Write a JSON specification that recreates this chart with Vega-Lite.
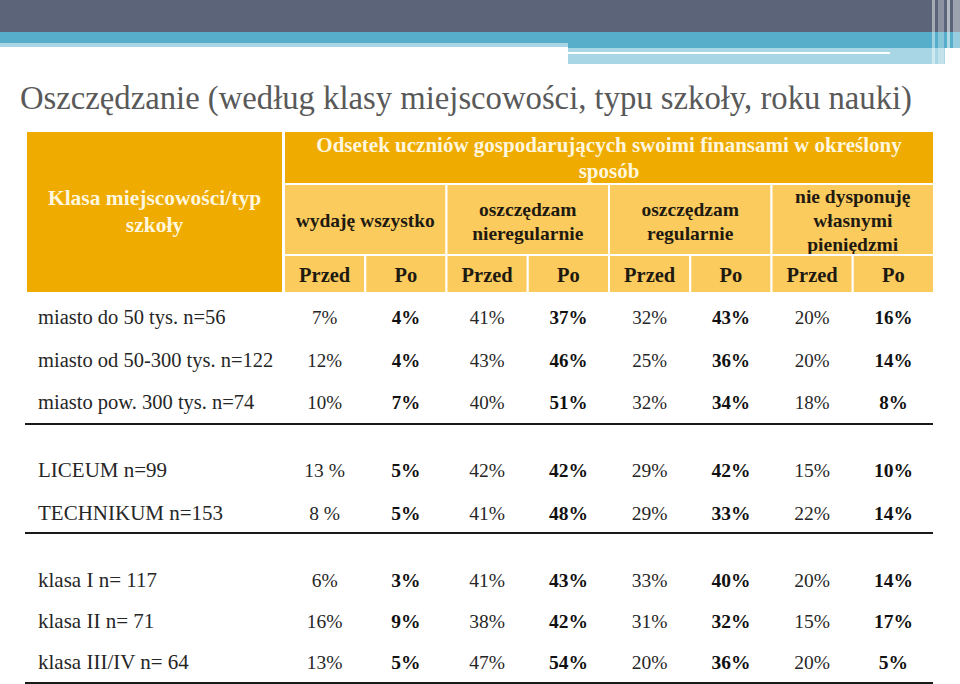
{
  "$schema": "https://vega.github.io/schema/vega-lite/v6.json",
  "width": 960,
  "height": 684,
  "padding": 0,
  "autosize": {"type": "none"},
  "background": "#ffffff",
  "config": {"view": {"stroke": null}, "text": {"font": "Liberation Serif"}},
  "datasets": {
    "tabela": [
      {"grupa": "miejscowość", "wiersz": "miasto do 50 tys. n=56", "kategoria": "wydaję wszystko", "okres": "Przed", "wartosc": "7%"},
      {"grupa": "miejscowość", "wiersz": "miasto do 50 tys. n=56", "kategoria": "wydaję wszystko", "okres": "Po", "wartosc": "4%"},
      {"grupa": "miejscowość", "wiersz": "miasto do 50 tys. n=56", "kategoria": "oszczędzam nieregularnie", "okres": "Przed", "wartosc": "41%"},
      {"grupa": "miejscowość", "wiersz": "miasto do 50 tys. n=56", "kategoria": "oszczędzam nieregularnie", "okres": "Po", "wartosc": "37%"},
      {"grupa": "miejscowość", "wiersz": "miasto do 50 tys. n=56", "kategoria": "oszczędzam regularnie", "okres": "Przed", "wartosc": "32%"},
      {"grupa": "miejscowość", "wiersz": "miasto do 50 tys. n=56", "kategoria": "oszczędzam regularnie", "okres": "Po", "wartosc": "43%"},
      {"grupa": "miejscowość", "wiersz": "miasto do 50 tys. n=56", "kategoria": "nie dysponuję własnymi pieniędzmi", "okres": "Przed", "wartosc": "20%"},
      {"grupa": "miejscowość", "wiersz": "miasto do 50 tys. n=56", "kategoria": "nie dysponuję własnymi pieniędzmi", "okres": "Po", "wartosc": "16%"},
      {"grupa": "miejscowość", "wiersz": "miasto od 50-300 tys. n=122", "kategoria": "wydaję wszystko", "okres": "Przed", "wartosc": "12%"},
      {"grupa": "miejscowość", "wiersz": "miasto od 50-300 tys. n=122", "kategoria": "wydaję wszystko", "okres": "Po", "wartosc": "4%"},
      {"grupa": "miejscowość", "wiersz": "miasto od 50-300 tys. n=122", "kategoria": "oszczędzam nieregularnie", "okres": "Przed", "wartosc": "43%"},
      {"grupa": "miejscowość", "wiersz": "miasto od 50-300 tys. n=122", "kategoria": "oszczędzam nieregularnie", "okres": "Po", "wartosc": "46%"},
      {"grupa": "miejscowość", "wiersz": "miasto od 50-300 tys. n=122", "kategoria": "oszczędzam regularnie", "okres": "Przed", "wartosc": "25%"},
      {"grupa": "miejscowość", "wiersz": "miasto od 50-300 tys. n=122", "kategoria": "oszczędzam regularnie", "okres": "Po", "wartosc": "36%"},
      {"grupa": "miejscowość", "wiersz": "miasto od 50-300 tys. n=122", "kategoria": "nie dysponuję własnymi pieniędzmi", "okres": "Przed", "wartosc": "20%"},
      {"grupa": "miejscowość", "wiersz": "miasto od 50-300 tys. n=122", "kategoria": "nie dysponuję własnymi pieniędzmi", "okres": "Po", "wartosc": "14%"},
      {"grupa": "miejscowość", "wiersz": "miasto pow. 300 tys. n=74", "kategoria": "wydaję wszystko", "okres": "Przed", "wartosc": "10%"},
      {"grupa": "miejscowość", "wiersz": "miasto pow. 300 tys. n=74", "kategoria": "wydaję wszystko", "okres": "Po", "wartosc": "7%"},
      {"grupa": "miejscowość", "wiersz": "miasto pow. 300 tys. n=74", "kategoria": "oszczędzam nieregularnie", "okres": "Przed", "wartosc": "40%"},
      {"grupa": "miejscowość", "wiersz": "miasto pow. 300 tys. n=74", "kategoria": "oszczędzam nieregularnie", "okres": "Po", "wartosc": "51%"},
      {"grupa": "miejscowość", "wiersz": "miasto pow. 300 tys. n=74", "kategoria": "oszczędzam regularnie", "okres": "Przed", "wartosc": "32%"},
      {"grupa": "miejscowość", "wiersz": "miasto pow. 300 tys. n=74", "kategoria": "oszczędzam regularnie", "okres": "Po", "wartosc": "34%"},
      {"grupa": "miejscowość", "wiersz": "miasto pow. 300 tys. n=74", "kategoria": "nie dysponuję własnymi pieniędzmi", "okres": "Przed", "wartosc": "18%"},
      {"grupa": "miejscowość", "wiersz": "miasto pow. 300 tys. n=74", "kategoria": "nie dysponuję własnymi pieniędzmi", "okres": "Po", "wartosc": "8%"},
      {"grupa": "typ szkoły", "wiersz": "LICEUM n=99", "kategoria": "wydaję wszystko", "okres": "Przed", "wartosc": "13 %"},
      {"grupa": "typ szkoły", "wiersz": "LICEUM n=99", "kategoria": "wydaję wszystko", "okres": "Po", "wartosc": "5%"},
      {"grupa": "typ szkoły", "wiersz": "LICEUM n=99", "kategoria": "oszczędzam nieregularnie", "okres": "Przed", "wartosc": "42%"},
      {"grupa": "typ szkoły", "wiersz": "LICEUM n=99", "kategoria": "oszczędzam nieregularnie", "okres": "Po", "wartosc": "42%"},
      {"grupa": "typ szkoły", "wiersz": "LICEUM n=99", "kategoria": "oszczędzam regularnie", "okres": "Przed", "wartosc": "29%"},
      {"grupa": "typ szkoły", "wiersz": "LICEUM n=99", "kategoria": "oszczędzam regularnie", "okres": "Po", "wartosc": "42%"},
      {"grupa": "typ szkoły", "wiersz": "LICEUM n=99", "kategoria": "nie dysponuję własnymi pieniędzmi", "okres": "Przed", "wartosc": "15%"},
      {"grupa": "typ szkoły", "wiersz": "LICEUM n=99", "kategoria": "nie dysponuję własnymi pieniędzmi", "okres": "Po", "wartosc": "10%"},
      {"grupa": "typ szkoły", "wiersz": "TECHNIKUM n=153", "kategoria": "wydaję wszystko", "okres": "Przed", "wartosc": "8 %"},
      {"grupa": "typ szkoły", "wiersz": "TECHNIKUM n=153", "kategoria": "wydaję wszystko", "okres": "Po", "wartosc": "5%"},
      {"grupa": "typ szkoły", "wiersz": "TECHNIKUM n=153", "kategoria": "oszczędzam nieregularnie", "okres": "Przed", "wartosc": "41%"},
      {"grupa": "typ szkoły", "wiersz": "TECHNIKUM n=153", "kategoria": "oszczędzam nieregularnie", "okres": "Po", "wartosc": "48%"},
      {"grupa": "typ szkoły", "wiersz": "TECHNIKUM n=153", "kategoria": "oszczędzam regularnie", "okres": "Przed", "wartosc": "29%"},
      {"grupa": "typ szkoły", "wiersz": "TECHNIKUM n=153", "kategoria": "oszczędzam regularnie", "okres": "Po", "wartosc": "33%"},
      {"grupa": "typ szkoły", "wiersz": "TECHNIKUM n=153", "kategoria": "nie dysponuję własnymi pieniędzmi", "okres": "Przed", "wartosc": "22%"},
      {"grupa": "typ szkoły", "wiersz": "TECHNIKUM n=153", "kategoria": "nie dysponuję własnymi pieniędzmi", "okres": "Po", "wartosc": "14%"},
      {"grupa": "rok nauki", "wiersz": "klasa I n= 117", "kategoria": "wydaję wszystko", "okres": "Przed", "wartosc": "6%"},
      {"grupa": "rok nauki", "wiersz": "klasa I n= 117", "kategoria": "wydaję wszystko", "okres": "Po", "wartosc": "3%"},
      {"grupa": "rok nauki", "wiersz": "klasa I n= 117", "kategoria": "oszczędzam nieregularnie", "okres": "Przed", "wartosc": "41%"},
      {"grupa": "rok nauki", "wiersz": "klasa I n= 117", "kategoria": "oszczędzam nieregularnie", "okres": "Po", "wartosc": "43%"},
      {"grupa": "rok nauki", "wiersz": "klasa I n= 117", "kategoria": "oszczędzam regularnie", "okres": "Przed", "wartosc": "33%"},
      {"grupa": "rok nauki", "wiersz": "klasa I n= 117", "kategoria": "oszczędzam regularnie", "okres": "Po", "wartosc": "40%"},
      {"grupa": "rok nauki", "wiersz": "klasa I n= 117", "kategoria": "nie dysponuję własnymi pieniędzmi", "okres": "Przed", "wartosc": "20%"},
      {"grupa": "rok nauki", "wiersz": "klasa I n= 117", "kategoria": "nie dysponuję własnymi pieniędzmi", "okres": "Po", "wartosc": "14%"},
      {"grupa": "rok nauki", "wiersz": "klasa II n= 71", "kategoria": "wydaję wszystko", "okres": "Przed", "wartosc": "16%"},
      {"grupa": "rok nauki", "wiersz": "klasa II n= 71", "kategoria": "wydaję wszystko", "okres": "Po", "wartosc": "9%"},
      {"grupa": "rok nauki", "wiersz": "klasa II n= 71", "kategoria": "oszczędzam nieregularnie", "okres": "Przed", "wartosc": "38%"},
      {"grupa": "rok nauki", "wiersz": "klasa II n= 71", "kategoria": "oszczędzam nieregularnie", "okres": "Po", "wartosc": "42%"},
      {"grupa": "rok nauki", "wiersz": "klasa II n= 71", "kategoria": "oszczędzam regularnie", "okres": "Przed", "wartosc": "31%"},
      {"grupa": "rok nauki", "wiersz": "klasa II n= 71", "kategoria": "oszczędzam regularnie", "okres": "Po", "wartosc": "32%"},
      {"grupa": "rok nauki", "wiersz": "klasa II n= 71", "kategoria": "nie dysponuję własnymi pieniędzmi", "okres": "Przed", "wartosc": "15%"},
      {"grupa": "rok nauki", "wiersz": "klasa II n= 71", "kategoria": "nie dysponuję własnymi pieniędzmi", "okres": "Po", "wartosc": "17%"},
      {"grupa": "rok nauki", "wiersz": "klasa III/IV n= 64", "kategoria": "wydaję wszystko", "okres": "Przed", "wartosc": "13%"},
      {"grupa": "rok nauki", "wiersz": "klasa III/IV n= 64", "kategoria": "wydaję wszystko", "okres": "Po", "wartosc": "5%"},
      {"grupa": "rok nauki", "wiersz": "klasa III/IV n= 64", "kategoria": "oszczędzam nieregularnie", "okres": "Przed", "wartosc": "47%"},
      {"grupa": "rok nauki", "wiersz": "klasa III/IV n= 64", "kategoria": "oszczędzam nieregularnie", "okres": "Po", "wartosc": "54%"},
      {"grupa": "rok nauki", "wiersz": "klasa III/IV n= 64", "kategoria": "oszczędzam regularnie", "okres": "Przed", "wartosc": "20%"},
      {"grupa": "rok nauki", "wiersz": "klasa III/IV n= 64", "kategoria": "oszczędzam regularnie", "okres": "Po", "wartosc": "36%"},
      {"grupa": "rok nauki", "wiersz": "klasa III/IV n= 64", "kategoria": "nie dysponuję własnymi pieniędzmi", "okres": "Przed", "wartosc": "20%"},
      {"grupa": "rok nauki", "wiersz": "klasa III/IV n= 64", "kategoria": "nie dysponuję własnymi pieniędzmi", "okres": "Po", "wartosc": "5%"}
    ],
    "kategorie": [
      {"kategoria": "wydaję wszystko", "podpis": "wydaję wszystko"},
      {"kategoria": "oszczędzam nieregularnie", "podpis": "oszczędzam\nnieregularnie"},
      {"kategoria": "oszczędzam regularnie", "podpis": "oszczędzam\nregularnie"},
      {"kategoria": "nie dysponuję własnymi pieniędzmi", "podpis": "nie dysponuję\nwłasnymi\npieniędzmi"}
    ]
  },
  "resolve": {"scale": {"x": "independent", "y": "independent"}},
  "layer": [
    {
      "data": {"values": [{}]},
      "mark": {"type": "rect", "color": "#5B6479"},
      "encoding": {
        "x": {"datum": 0, "scale": {"type": "linear", "domain": [0, 960], "range": [0, 960], "zero": false, "nice": false}, "axis": null},
        "x2": {"datum": 960},
        "y": {"datum": 0, "scale": {"type": "linear", "domain": [0, 684], "range": [0, 684], "zero": false, "nice": false}, "axis": null},
        "y2": {"datum": 32}
      }
    },
    {
      "data": {"values": [{}]},
      "mark": {"type": "rect", "color": "#56AECB"},
      "encoding": {
        "x": {"datum": 0, "scale": {"type": "linear", "domain": [0, 960], "range": [0, 960], "zero": false, "nice": false}, "axis": null},
        "x2": {"datum": 960},
        "y": {"datum": 32, "scale": {"type": "linear", "domain": [0, 684], "range": [0, 684], "zero": false, "nice": false}, "axis": null},
        "y2": {"datum": 43}
      }
    },
    {
      "data": {"values": [{}]},
      "mark": {"type": "rect", "color": "#A9D6E4"},
      "encoding": {
        "x": {"datum": 0, "scale": {"type": "linear", "domain": [0, 960], "range": [0, 960], "zero": false, "nice": false}, "axis": null},
        "x2": {"datum": 568},
        "y": {"datum": 43, "scale": {"type": "linear", "domain": [0, 684], "range": [0, 684], "zero": false, "nice": false}, "axis": null},
        "y2": {"datum": 47}
      }
    },
    {
      "data": {"values": [{}]},
      "mark": {"type": "rect", "color": "#56AECB"},
      "encoding": {
        "x": {"datum": 568, "scale": {"type": "linear", "domain": [0, 960], "range": [0, 960], "zero": false, "nice": false}, "axis": null},
        "x2": {"datum": 960},
        "y": {"datum": 43, "scale": {"type": "linear", "domain": [0, 684], "range": [0, 684], "zero": false, "nice": false}, "axis": null},
        "y2": {"datum": 48}
      }
    },
    {
      "data": {"values": [{}]},
      "mark": {"type": "rect", "color": "#A9D6E4"},
      "encoding": {
        "x": {"datum": 568, "scale": {"type": "linear", "domain": [0, 960], "range": [0, 960], "zero": false, "nice": false}, "axis": null},
        "x2": {"datum": 945},
        "y": {"datum": 48, "scale": {"type": "linear", "domain": [0, 684], "range": [0, 684], "zero": false, "nice": false}, "axis": null},
        "y2": {"datum": 64}
      }
    },
    {
      "data": {"values": [{}]},
      "mark": {"type": "rect", "color": "#FFFFFF"},
      "encoding": {
        "x": {"datum": 568, "scale": {"type": "linear", "domain": [0, 960], "range": [0, 960], "zero": false, "nice": false}, "axis": null},
        "x2": {"datum": 890},
        "y": {"datum": 52, "scale": {"type": "linear", "domain": [0, 684], "range": [0, 684], "zero": false, "nice": false}, "axis": null},
        "y2": {"datum": 54}
      }
    },
    {
      "data": {"values": [{}]},
      "mark": {"type": "rect", "color": "#FFFFFF", "opacity": 0.45},
      "encoding": {
        "x": {"datum": 932, "scale": {"type": "linear", "domain": [0, 960], "range": [0, 960], "zero": false, "nice": false}, "axis": null},
        "x2": {"datum": 935},
        "y": {"datum": 0, "scale": {"type": "linear", "domain": [0, 684], "range": [0, 684], "zero": false, "nice": false}, "axis": null},
        "y2": {"datum": 64}
      }
    },
    {
      "data": {"values": [{}]},
      "mark": {"type": "rect", "color": "#FFFFFF", "opacity": 0.3},
      "encoding": {
        "x": {"datum": 938, "scale": {"type": "linear", "domain": [0, 960], "range": [0, 960], "zero": false, "nice": false}, "axis": null},
        "x2": {"datum": 944},
        "y": {"datum": 0, "scale": {"type": "linear", "domain": [0, 684], "range": [0, 684], "zero": false, "nice": false}, "axis": null},
        "y2": {"datum": 64}
      }
    },
    {
      "data": {"values": [{}]},
      "mark": {"type": "rect", "color": "#FFFFFF", "opacity": 0.55},
      "encoding": {
        "x": {"datum": 947, "scale": {"type": "linear", "domain": [0, 960], "range": [0, 960], "zero": false, "nice": false}, "axis": null},
        "x2": {"datum": 950},
        "y": {"datum": 0, "scale": {"type": "linear", "domain": [0, 684], "range": [0, 684], "zero": false, "nice": false}, "axis": null},
        "y2": {"datum": 64}
      }
    },
    {
      "data": {"values": [{}]},
      "mark": {"type": "rect", "color": "#FFFFFF", "opacity": 0.4},
      "encoding": {
        "x": {"datum": 953, "scale": {"type": "linear", "domain": [0, 960], "range": [0, 960], "zero": false, "nice": false}, "axis": null},
        "x2": {"datum": 960},
        "y": {"datum": 0, "scale": {"type": "linear", "domain": [0, 684], "range": [0, 684], "zero": false, "nice": false}, "axis": null},
        "y2": {"datum": 64}
      }
    },
    {
      "data": {"values": [{}]},
      "mark": {"type": "text", "text": "Oszczędzanie (według klasy miejscowości, typu szkoły, roku nauki)", "align": "left", "baseline": "alphabetic", "fontSize": 32.7, "color": "#595959"},
      "encoding": {
        "x": {"datum": 20, "scale": {"type": "linear", "domain": [0, 960], "range": [0, 960], "zero": false, "nice": false}, "axis": null},
        "y": {"datum": 109, "scale": {"type": "linear", "domain": [0, 684], "range": [0, 684], "zero": false, "nice": false}, "axis": null}
      }
    },
    {
      "data": {"values": [{"naglowek": "Klasa miejscowości/typ\nszkoły"}]},
      "encoding": {
        "x": {"field": "naglowek", "type": "nominal", "scale": {"type": "band", "domain": ["Klasa miejscowości/typ\nszkoły"], "range": [27, 282], "paddingInner": 0, "paddingOuter": 0}, "axis": null},
        "y": {"field": "naglowek", "type": "nominal", "scale": {"type": "band", "domain": ["Klasa miejscowości/typ\nszkoły"], "range": [132, 292], "paddingInner": 0, "paddingOuter": 0}, "axis": null}
      },
      "layer": [
        {"mark": {"type": "rect", "color": "#EFAB00"}},
        {"mark": {"type": "text", "lineBreak": "\n", "fontSize": 21.5, "fontWeight": "bold", "color": "#FFF6DE", "align": "center", "baseline": "middle", "lineHeight": 27, "dy": -13}, "encoding": {"text": {"field": "naglowek"}}}
      ]
    },
    {
      "data": {"values": [{"naglowek": "Odsetek uczniów gospodarujących swoimi finansami w określony\nsposób"}]},
      "encoding": {
        "x": {"field": "naglowek", "type": "nominal", "scale": {"type": "band", "domain": ["Odsetek uczniów gospodarujących swoimi finansami w określony\nsposób"], "range": [285, 933], "paddingInner": 0, "paddingOuter": 0}, "axis": null},
        "y": {"field": "naglowek", "type": "nominal", "scale": {"type": "band", "domain": ["Odsetek uczniów gospodarujących swoimi finansami w określony\nsposób"], "range": [132, 183], "paddingInner": 0, "paddingOuter": 0}, "axis": null}
      },
      "layer": [
        {"mark": {"type": "rect", "color": "#EFAB00"}},
        {"mark": {"type": "text", "lineBreak": "\n", "fontSize": 21, "fontWeight": "bold", "color": "#FFF6DE", "align": "center", "baseline": "middle", "lineHeight": 26, "dy": -11.5}, "encoding": {"text": {"field": "naglowek"}}}
      ]
    },
    {
      "data": {"name": "kategorie"},
      "encoding": {
        "x": {"field": "kategoria", "type": "nominal", "scale": {"type": "band", "domain": ["wydaję wszystko", "oszczędzam nieregularnie", "oszczędzam regularnie", "nie dysponuję własnymi pieniędzmi"], "range": [284, 934], "paddingInner": 0, "paddingOuter": 0}, "axis": null},
        "y": {"datum": "kategoria", "type": "nominal", "scale": {"type": "band", "domain": ["kategoria"], "range": [184, 255], "paddingInner": 0, "paddingOuter": 0}, "axis": null}
      },
      "layer": [
        {"mark": {"type": "rect", "color": "#FCCB5E", "stroke": "#FFFFFF", "strokeWidth": 2}},
        {
          "transform": [{"filter": {"field": "kategoria", "equal": "wydaję wszystko"}}],
          "mark": {"type": "text", "lineBreak": "\n", "fontSize": 19.5, "fontWeight": "bold", "color": "#1E1A10", "align": "center", "baseline": "middle", "lineHeight": 24, "dy": 1.5},
          "encoding": {"text": {"field": "podpis"}}
        },
        {
          "transform": [{"filter": {"field": "kategoria", "oneOf": ["oszczędzam nieregularnie", "oszczędzam regularnie"]}}],
          "mark": {"type": "text", "lineBreak": "\n", "fontSize": 19.5, "fontWeight": "bold", "color": "#1E1A10", "align": "center", "baseline": "middle", "lineHeight": 24, "dy": -9.5},
          "encoding": {"text": {"field": "podpis"}}
        },
        {
          "transform": [{"filter": {"field": "kategoria", "equal": "nie dysponuję własnymi pieniędzmi"}}],
          "mark": {"type": "text", "lineBreak": "\n", "fontSize": 19.5, "fontWeight": "bold", "color": "#1E1A10", "align": "center", "baseline": "middle", "lineHeight": 24, "dy": -22.5},
          "encoding": {"text": {"field": "podpis"}}
        }
      ]
    },
    {
      "data": {"name": "tabela"},
      "transform": [{"filter": {"field": "wiersz", "equal": "miasto do 50 tys. n=56"}}],
      "encoding": {
        "x": {"field": "kategoria", "type": "nominal", "scale": {"type": "band", "domain": ["wydaję wszystko", "oszczędzam nieregularnie", "oszczędzam regularnie", "nie dysponuję własnymi pieniędzmi"], "range": [284, 934], "paddingInner": 0, "paddingOuter": 0}, "axis": null},
        "xOffset": {"field": "okres", "type": "nominal", "scale": {"type": "band", "domain": ["Przed", "Po"], "paddingInner": 0, "paddingOuter": 0}},
        "y": {"datum": "okres", "type": "nominal", "scale": {"type": "band", "domain": ["okres"], "range": [255, 293], "paddingInner": 0, "paddingOuter": 0}, "axis": null}
      },
      "layer": [
        {"mark": {"type": "rect", "color": "#FCCB5E", "stroke": "#FFFFFF", "strokeWidth": 2}},
        {"mark": {"type": "text", "fontSize": 20.5, "fontWeight": "bold", "color": "#1E1A10", "align": "center", "baseline": "middle", "dy": 2}, "encoding": {"text": {"field": "okres"}}}
      ]
    },
    {
      "data": {"name": "tabela"},
      "transform": [{"filter": {"field": "grupa", "equal": "miejscowość"}}, {"filter": {"field": "okres", "equal": "Przed"}}, {"filter": {"field": "kategoria", "equal": "wydaję wszystko"}}],
      "mark": {"type": "text", "fontSize": 20.5, "color": "#262626", "align": "left", "baseline": "middle"},
      "encoding": {
        "x": {"datum": 0, "scale": {"type": "linear", "domain": [0, 1], "range": [38, 284], "zero": false, "nice": false}, "axis": null},
        "y": {"field": "wiersz", "type": "nominal", "scale": {"type": "band", "domain": ["miasto do 50 tys. n=56", "miasto od 50-300 tys. n=122", "miasto pow. 300 tys. n=74"], "range": [297, 424], "paddingInner": 0, "paddingOuter": 0}, "axis": null},
        "text": {"field": "wiersz"}
      }
    },
    {
      "data": {"name": "tabela"},
      "transform": [{"filter": {"field": "grupa", "equal": "miejscowość"}}, {"filter": {"field": "okres", "equal": "Przed"}}],
      "mark": {"type": "text", "fontSize": 19, "color": "#262626", "align": "center", "baseline": "middle"},
      "encoding": {
        "x": {"field": "kategoria", "type": "nominal", "scale": {"type": "band", "domain": ["wydaję wszystko", "oszczędzam nieregularnie", "oszczędzam regularnie", "nie dysponuję własnymi pieniędzmi"], "range": [284, 934], "paddingInner": 0, "paddingOuter": 0}, "axis": null},
        "xOffset": {"field": "okres", "type": "nominal", "scale": {"type": "band", "domain": ["Przed", "Po"], "paddingInner": 0, "paddingOuter": 0}},
        "y": {"field": "wiersz", "type": "nominal", "scale": {"type": "band", "domain": ["miasto do 50 tys. n=56", "miasto od 50-300 tys. n=122", "miasto pow. 300 tys. n=74"], "range": [297, 424], "paddingInner": 0, "paddingOuter": 0}, "axis": null},
        "text": {"field": "wartosc"}
      }
    },
    {
      "data": {"name": "tabela"},
      "transform": [{"filter": {"field": "grupa", "equal": "miejscowość"}}, {"filter": {"field": "okres", "equal": "Po"}}],
      "mark": {"type": "text", "fontSize": 19, "fontWeight": "bold", "color": "#111111", "align": "center", "baseline": "middle"},
      "encoding": {
        "x": {"field": "kategoria", "type": "nominal", "scale": {"type": "band", "domain": ["wydaję wszystko", "oszczędzam nieregularnie", "oszczędzam regularnie", "nie dysponuję własnymi pieniędzmi"], "range": [284, 934], "paddingInner": 0, "paddingOuter": 0}, "axis": null},
        "xOffset": {"field": "okres", "type": "nominal", "scale": {"type": "band", "domain": ["Przed", "Po"], "paddingInner": 0, "paddingOuter": 0}},
        "y": {"field": "wiersz", "type": "nominal", "scale": {"type": "band", "domain": ["miasto do 50 tys. n=56", "miasto od 50-300 tys. n=122", "miasto pow. 300 tys. n=74"], "range": [297, 424], "paddingInner": 0, "paddingOuter": 0}, "axis": null},
        "text": {"field": "wartosc"}
      }
    },
    {
      "data": {"name": "tabela"},
      "transform": [{"filter": {"field": "grupa", "equal": "typ szkoły"}}, {"filter": {"field": "okres", "equal": "Przed"}}, {"filter": {"field": "kategoria", "equal": "wydaję wszystko"}}],
      "mark": {"type": "text", "fontSize": 21, "color": "#262626", "align": "left", "baseline": "middle"},
      "encoding": {
        "x": {"datum": 0, "scale": {"type": "linear", "domain": [0, 1], "range": [38, 284], "zero": false, "nice": false}, "axis": null},
        "y": {"field": "wiersz", "type": "nominal", "scale": {"type": "band", "domain": ["LICEUM n=99", "TECHNIKUM n=153"], "range": [449.5, 535.5], "paddingInner": 0, "paddingOuter": 0}, "axis": null},
        "text": {"field": "wiersz"}
      }
    },
    {
      "data": {"name": "tabela"},
      "transform": [{"filter": {"field": "grupa", "equal": "typ szkoły"}}, {"filter": {"field": "okres", "equal": "Przed"}}],
      "mark": {"type": "text", "fontSize": 19.5, "color": "#262626", "align": "center", "baseline": "middle"},
      "encoding": {
        "x": {"field": "kategoria", "type": "nominal", "scale": {"type": "band", "domain": ["wydaję wszystko", "oszczędzam nieregularnie", "oszczędzam regularnie", "nie dysponuję własnymi pieniędzmi"], "range": [284, 934], "paddingInner": 0, "paddingOuter": 0}, "axis": null},
        "xOffset": {"field": "okres", "type": "nominal", "scale": {"type": "band", "domain": ["Przed", "Po"], "paddingInner": 0, "paddingOuter": 0}},
        "y": {"field": "wiersz", "type": "nominal", "scale": {"type": "band", "domain": ["LICEUM n=99", "TECHNIKUM n=153"], "range": [449.5, 535.5], "paddingInner": 0, "paddingOuter": 0}, "axis": null},
        "text": {"field": "wartosc"}
      }
    },
    {
      "data": {"name": "tabela"},
      "transform": [{"filter": {"field": "grupa", "equal": "typ szkoły"}}, {"filter": {"field": "okres", "equal": "Po"}}],
      "mark": {"type": "text", "fontSize": 19.5, "fontWeight": "bold", "color": "#111111", "align": "center", "baseline": "middle"},
      "encoding": {
        "x": {"field": "kategoria", "type": "nominal", "scale": {"type": "band", "domain": ["wydaję wszystko", "oszczędzam nieregularnie", "oszczędzam regularnie", "nie dysponuję własnymi pieniędzmi"], "range": [284, 934], "paddingInner": 0, "paddingOuter": 0}, "axis": null},
        "xOffset": {"field": "okres", "type": "nominal", "scale": {"type": "band", "domain": ["Przed", "Po"], "paddingInner": 0, "paddingOuter": 0}},
        "y": {"field": "wiersz", "type": "nominal", "scale": {"type": "band", "domain": ["LICEUM n=99", "TECHNIKUM n=153"], "range": [449.5, 535.5], "paddingInner": 0, "paddingOuter": 0}, "axis": null},
        "text": {"field": "wartosc"}
      }
    },
    {
      "data": {"name": "tabela"},
      "transform": [{"filter": {"field": "grupa", "equal": "rok nauki"}}, {"filter": {"field": "okres", "equal": "Przed"}}, {"filter": {"field": "kategoria", "equal": "wydaję wszystko"}}],
      "mark": {"type": "text", "fontSize": 21, "color": "#262626", "align": "left", "baseline": "middle"},
      "encoding": {
        "x": {"datum": 0, "scale": {"type": "linear", "domain": [0, 1], "range": [38, 284], "zero": false, "nice": false}, "axis": null},
        "y": {"field": "wiersz", "type": "nominal", "scale": {"type": "band", "domain": ["klasa I n= 117", "klasa II n= 71", "klasa III/IV n= 64"], "range": [560, 684], "paddingInner": 0, "paddingOuter": 0}, "axis": null},
        "text": {"field": "wiersz"}
      }
    },
    {
      "data": {"name": "tabela"},
      "transform": [{"filter": {"field": "grupa", "equal": "rok nauki"}}, {"filter": {"field": "okres", "equal": "Przed"}}],
      "mark": {"type": "text", "fontSize": 19.5, "color": "#262626", "align": "center", "baseline": "middle"},
      "encoding": {
        "x": {"field": "kategoria", "type": "nominal", "scale": {"type": "band", "domain": ["wydaję wszystko", "oszczędzam nieregularnie", "oszczędzam regularnie", "nie dysponuję własnymi pieniędzmi"], "range": [284, 934], "paddingInner": 0, "paddingOuter": 0}, "axis": null},
        "xOffset": {"field": "okres", "type": "nominal", "scale": {"type": "band", "domain": ["Przed", "Po"], "paddingInner": 0, "paddingOuter": 0}},
        "y": {"field": "wiersz", "type": "nominal", "scale": {"type": "band", "domain": ["klasa I n= 117", "klasa II n= 71", "klasa III/IV n= 64"], "range": [560, 684], "paddingInner": 0, "paddingOuter": 0}, "axis": null},
        "text": {"field": "wartosc"}
      }
    },
    {
      "data": {"name": "tabela"},
      "transform": [{"filter": {"field": "grupa", "equal": "rok nauki"}}, {"filter": {"field": "okres", "equal": "Po"}}],
      "mark": {"type": "text", "fontSize": 19.5, "fontWeight": "bold", "color": "#111111", "align": "center", "baseline": "middle"},
      "encoding": {
        "x": {"field": "kategoria", "type": "nominal", "scale": {"type": "band", "domain": ["wydaję wszystko", "oszczędzam nieregularnie", "oszczędzam regularnie", "nie dysponuję własnymi pieniędzmi"], "range": [284, 934], "paddingInner": 0, "paddingOuter": 0}, "axis": null},
        "xOffset": {"field": "okres", "type": "nominal", "scale": {"type": "band", "domain": ["Przed", "Po"], "paddingInner": 0, "paddingOuter": 0}},
        "y": {"field": "wiersz", "type": "nominal", "scale": {"type": "band", "domain": ["klasa I n= 117", "klasa II n= 71", "klasa III/IV n= 64"], "range": [560, 684], "paddingInner": 0, "paddingOuter": 0}, "axis": null},
        "text": {"field": "wartosc"}
      }
    },
    {
      "data": {"values": [{}]},
      "mark": {"type": "rule", "color": "#1A1A1A", "strokeWidth": 2},
      "encoding": {
        "x": {"datum": 25, "scale": {"type": "linear", "domain": [0, 960], "range": [0, 960], "zero": false, "nice": false}, "axis": null},
        "x2": {"datum": 933},
        "y": {"datum": 424, "scale": {"type": "linear", "domain": [0, 684], "range": [0, 684], "zero": false, "nice": false}, "axis": null}
      }
    },
    {
      "data": {"values": [{}]},
      "mark": {"type": "rule", "color": "#1A1A1A", "strokeWidth": 2},
      "encoding": {
        "x": {"datum": 25, "scale": {"type": "linear", "domain": [0, 960], "range": [0, 960], "zero": false, "nice": false}, "axis": null},
        "x2": {"datum": 933},
        "y": {"datum": 533, "scale": {"type": "linear", "domain": [0, 684], "range": [0, 684], "zero": false, "nice": false}, "axis": null}
      }
    },
    {
      "data": {"values": [{}]},
      "mark": {"type": "rule", "color": "#1A1A1A", "strokeWidth": 2},
      "encoding": {
        "x": {"datum": 25, "scale": {"type": "linear", "domain": [0, 960], "range": [0, 960], "zero": false, "nice": false}, "axis": null},
        "x2": {"datum": 933},
        "y": {"datum": 683, "scale": {"type": "linear", "domain": [0, 684], "range": [0, 684], "zero": false, "nice": false}, "axis": null}
      }
    }
  ]
}
